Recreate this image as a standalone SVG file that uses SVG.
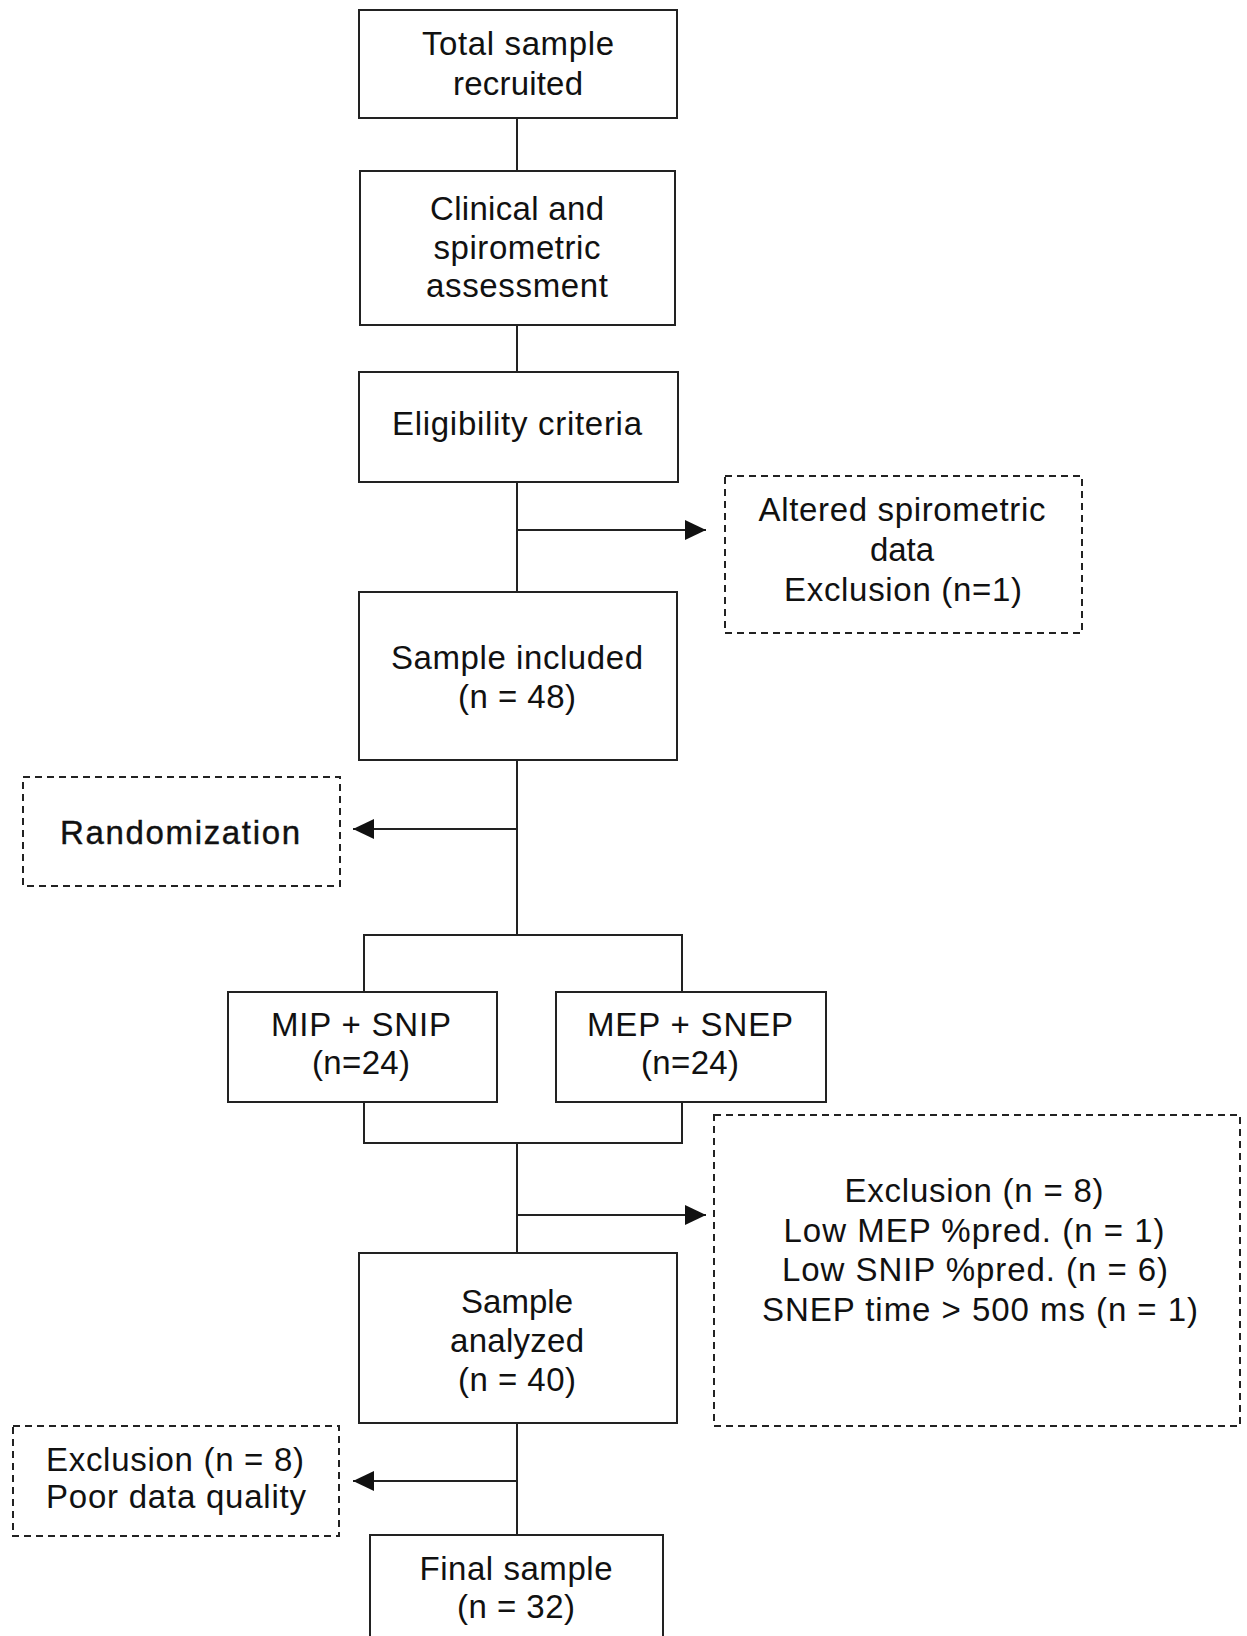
<svg xmlns="http://www.w3.org/2000/svg" width="1247" height="1636" viewBox="0 0 1247 1636">
<defs>
<style>
.box{fill:#fff;stroke:#222;stroke-width:2}
.dash{fill:#fff;stroke:#222;stroke-width:2;stroke-dasharray:7 5}
.ln{fill:none;stroke:#222;stroke-width:2}
text{font-family:"Liberation Sans",Arial,sans-serif;font-size:33px;fill:#111;text-anchor:middle}
</style>
<marker id="ah" viewBox="0 0 21 20" refX="21" refY="10" markerWidth="21" markerHeight="20" markerUnits="userSpaceOnUse" orient="auto">
<path d="M0,0 L21,10 L0,20 Z" fill="#111"/>
</marker>
</defs>
<rect width="1247" height="1636" fill="#fff"/>
<g id="connectors">
<line class="ln" x1="517" y1="118" x2="517" y2="171"/>
<line class="ln" x1="517" y1="325" x2="517" y2="372"/>
<line class="ln" x1="517" y1="482" x2="517" y2="592"/>
<line class="ln" x1="517" y1="530" x2="706" y2="530" marker-end="url(#ah)"/>
<line class="ln" x1="517" y1="760" x2="517" y2="935"/>
<line class="ln" x1="517" y1="829" x2="353" y2="829" marker-end="url(#ah)"/>
<polyline class="ln" points="364,992 364,935 682,935 682,992"/>
<polyline class="ln" points="364,1102 364,1143 682,1143 682,1102"/>
<line class="ln" x1="517" y1="1143" x2="517" y2="1253"/>
<line class="ln" x1="517" y1="1215" x2="706" y2="1215" marker-end="url(#ah)"/>
<line class="ln" x1="517" y1="1423" x2="517" y2="1535"/>
<line class="ln" x1="517" y1="1481" x2="353" y2="1481" marker-end="url(#ah)"/>
</g>
<g id="n1">
<rect class="box" x="359" y="10" width="318" height="108"/>
<text x="518" y="55" textLength="192" lengthAdjust="spacing">Total sample</text>
<text x="518" y="95" textLength="130" lengthAdjust="spacing">recruited</text>
</g>
<g id="n2">
<rect class="box" x="360" y="171" width="315" height="154"/>
<text x="517" y="220" textLength="174" lengthAdjust="spacing">Clinical and</text>
<text x="517" y="259" textLength="167" lengthAdjust="spacing">spirometric</text>
<text x="517" y="297" textLength="182" lengthAdjust="spacing">assessment</text>
</g>
<g id="n3">
<rect class="box" x="359" y="372" width="319" height="110"/>
<text x="517" y="435" textLength="250" lengthAdjust="spacing">Eligibility criteria</text>
</g>
<g id="n4">
<rect class="dash" x="725" y="476" width="357" height="157"/>
<text x="902" y="521" textLength="287" lengthAdjust="spacing">Altered spirometric</text>
<text x="902" y="561" textLength="64" lengthAdjust="spacing">data</text>
<text x="903" y="601" textLength="238" lengthAdjust="spacing">Exclusion (n=1)</text>
</g>
<g id="n5">
<rect class="box" x="359" y="592" width="318" height="168"/>
<text x="517" y="669" textLength="252" lengthAdjust="spacing">Sample included</text>
<text x="517" y="708" textLength="118" lengthAdjust="spacing">(n = 48)</text>
</g>
<g id="n6">
<rect class="dash" x="23" y="777" width="317" height="109"/>
<text x="180" y="844" textLength="240" lengthAdjust="spacing" stroke="#111" stroke-width="0.4">Randomization</text>
</g>
<g id="n7">
<rect class="box" x="228" y="992" width="269" height="110"/>
<text x="361" y="1036" textLength="180" lengthAdjust="spacing">MIP + SNIP</text>
<text x="361" y="1074" textLength="98" lengthAdjust="spacing">(n=24)</text>
</g>
<g id="n8">
<rect class="box" x="556" y="992" width="270" height="110"/>
<text x="690" y="1036" textLength="206" lengthAdjust="spacing">MEP + SNEP</text>
<text x="690" y="1074" textLength="98" lengthAdjust="spacing">(n=24)</text>
</g>
<g id="n9">
<rect class="dash" x="714" y="1115" width="526" height="311"/>
<text x="974" y="1202" textLength="259" lengthAdjust="spacing">Exclusion (n = 8)</text>
<text x="974" y="1242" textLength="381" lengthAdjust="spacing">Low MEP %pred. (n = 1)</text>
<text x="975" y="1281" textLength="386" lengthAdjust="spacing">Low SNIP %pred. (n = 6)</text>
<text x="980" y="1321" textLength="436" lengthAdjust="spacing">SNEP time &gt; 500 ms (n = 1)</text>
</g>
<g id="n10">
<rect class="box" x="359" y="1253" width="318" height="170"/>
<text x="517" y="1313" textLength="112" lengthAdjust="spacing">Sample</text>
<text x="517" y="1352" textLength="134" lengthAdjust="spacing">analyzed</text>
<text x="517" y="1391" textLength="118" lengthAdjust="spacing">(n = 40)</text>
</g>
<g id="n11">
<rect class="dash" x="13" y="1426" width="326" height="110"/>
<text x="175" y="1471" textLength="258" lengthAdjust="spacing">Exclusion (n = 8)</text>
<text x="176" y="1508" textLength="260" lengthAdjust="spacing">Poor data quality</text>
</g>
<g id="n12">
<rect class="box" x="370" y="1535" width="293" height="120"/>
<text x="516" y="1580" textLength="193" lengthAdjust="spacing">Final sample</text>
<text x="516" y="1618" textLength="118" lengthAdjust="spacing">(n = 32)</text>
</g>
</svg>
